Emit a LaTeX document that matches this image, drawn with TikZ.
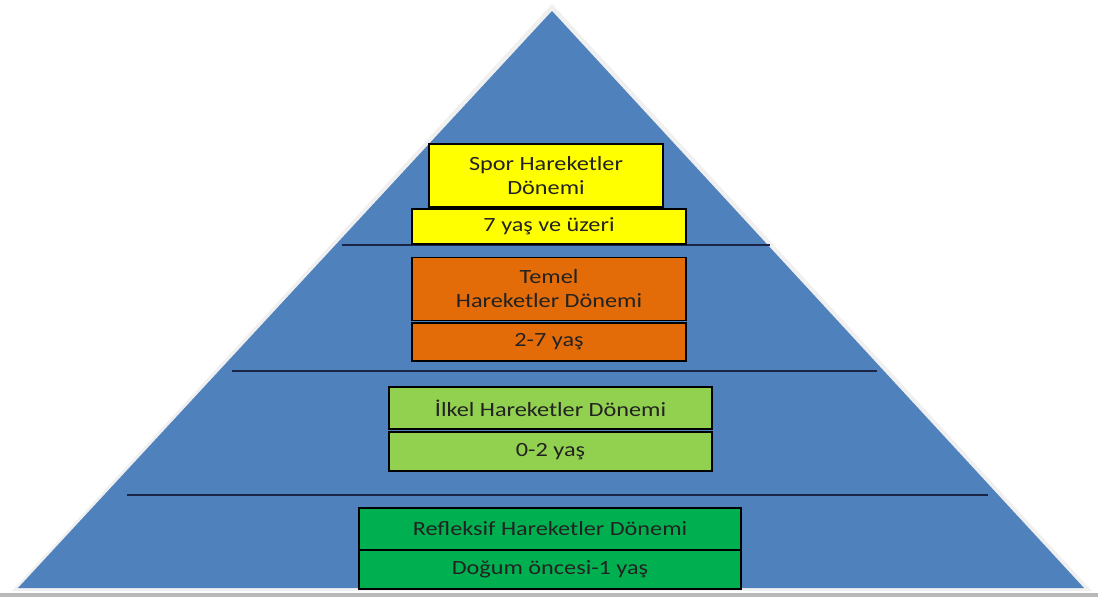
\documentclass[tikz,border=0pt]{standalone}
\usepackage{fontspec}
\setmainfont{Carlito}[FakeStretch=1.2]
\definecolor{pyrblue}{HTML}{4F81BD}
\definecolor{linenavy}{HTML}{1B2548}
\definecolor{boxyellow}{HTML}{FFFF00}
\definecolor{boxorange}{HTML}{E36C09}
\definecolor{boxlgreen}{HTML}{92D050}
\definecolor{boxgreen}{HTML}{00B050}
\definecolor{txt}{HTML}{222222}
\tikzset{
  stagebox/.style={draw=black, line width=1.3pt, inner sep=0pt, align=center, text=txt,
    font=\fontsize{20.2}{24}\selectfont},
  divider/.style={draw=linenavy, line width=1.4pt}
}
\begin{document}
\begin{tikzpicture}[x=1pt,y=-1pt]
\useasboundingbox (0,0) rectangle (1098,597);
\fill[white] (0,0) rectangle (1098,597);
% shadow / glow
\fill[gray!12] (552,4) -- (1092,591) -- (12,591) -- cycle;
\fill[pyrblue] (552,11) -- (1084,588) -- (18,588) -- cycle;
\fill[gray!55] (0,593) rectangle (1098,597);
% dividers
\coordinate (d1l) at (342,245); \coordinate (d1r) at (770,245);
\coordinate (d2l) at (232,371); \coordinate (d2r) at (877,371);
\coordinate (d3l) at (127,495); \coordinate (d3r) at (988,495);
\draw[divider] (d1l) -- (d1r);
\draw[divider] (d2l) -- (d2r);
\draw[divider] (d3l) -- (d3r);
% boxes
\node[stagebox, fill=boxyellow, minimum width=234pt, minimum height=63pt] (s1) at (546,175.5) {Spor Hareketler\\Dönemi};
\node[stagebox, fill=boxyellow, minimum width=274pt, minimum height=35pt] (s1a) at (549,226.5) {7 yaş ve üzeri};
\node[stagebox, fill=boxorange, minimum width=274pt, minimum height=63pt] (s2) at (549,289) {Temel\\Hareketler Dönemi};
\node[stagebox, fill=boxorange, minimum width=274pt, minimum height=38pt] (s2a) at (549,342) {2-7 yaş};
\node[stagebox, fill=boxlgreen, minimum width=323pt, minimum height=42pt] (s3) at (550.5,408) {İlkel Hareketler Dönemi};
\node[stagebox, fill=boxlgreen, minimum width=323pt, minimum height=39pt] (s3a) at (550.5,451.5) {0-2 yaş};
\node[stagebox, fill=boxgreen, minimum width=382pt, minimum height=42pt] (s4) at (550,529) {Refleksif Hareketler Dönemi};
\node[stagebox, fill=boxgreen, minimum width=382pt, minimum height=39pt] (s4a) at (550,569.5) {Doğum öncesi-1 yaş};
\end{tikzpicture}
\end{document}
